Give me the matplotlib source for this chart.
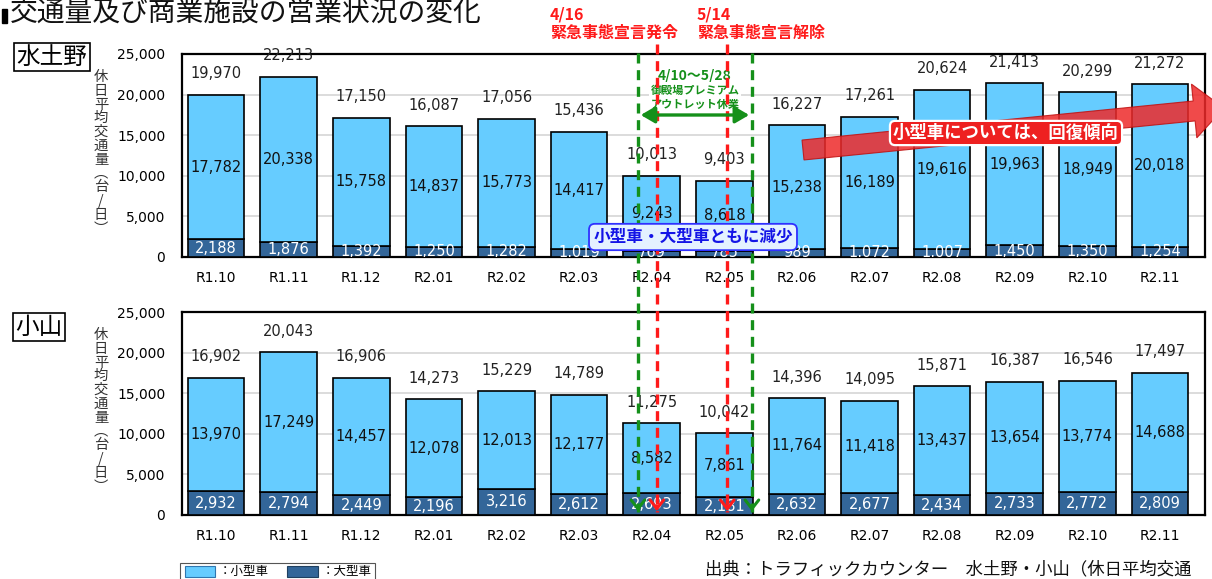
import numpy as np
import matplotlib
matplotlib.use("Agg")
import matplotlib.pyplot as plt
from matplotlib.patches import Rectangle, Polygon, FancyArrowPatch
from matplotlib.lines import Line2D

plt.rcParams['font.family'] = ['DejaVu Sans', 'Noto Sans CJK JP']
JP = ['Noto Sans CJK JP', 'DejaVu Sans']

# ---------------- data ----------------
categories = ["R1.10", "R1.11", "R1.12", "R2.01", "R2.02", "R2.03", "R2.04",
              "R2.05", "R2.06", "R2.07", "R2.08", "R2.09", "R2.10", "R2.11"]

mizudo_total = [19970, 22213, 17150, 16087, 17056, 15436, 10013, 9403,
                16227, 17261, 20624, 21413, 20299, 21272]
mizudo_small = [17782, 20338, 15758, 14837, 15773, 14417, 9243, 8618,
                15238, 16189, 19616, 19963, 18949, 20018]
mizudo_large = [2188, 1876, 1392, 1250, 1282, 1019, 769, 785,
                989, 1072, 1007, 1450, 1350, 1254]

oyama_total = [16902, 20043, 16906, 14273, 15229, 14789, 11275, 10042,
               14396, 14095, 15871, 16387, 16546, 17497]
oyama_small = [13970, 17249, 14457, 12078, 12013, 12177, 8582, 7861,
               11764, 11418, 13437, 13654, 13774, 14688]
oyama_large = [2932, 2794, 2449, 2196, 3216, 2612, 2693, 2181,
               2632, 2677, 2434, 2733, 2772, 2809]

yticks = [0, 5000, 10000, 15000, 20000, 25000]

# ---------------- style ----------------
LIGHT = '#66CCFF'
DARK = '#336699'
W, H = 1212, 579

fig = plt.figure(figsize=(W / 100, H / 100), dpi=100)


def fx(x):
    return x / W


def fy(y):
    return 1 - y / H


def make_axes(top, bottom):
    return fig.add_axes([fx(182), fy(bottom), fx(1205) - fx(182), (bottom - top) / H])


ax1 = make_axes(54, 257)
ax2 = make_axes(312, 515)


def draw(ax, small, large, total):
    x = np.arange(len(categories))
    small = np.array(small)
    large = np.array(large)
    ax.bar(x, large, width=0.78, color=DARK, edgecolor='black', linewidth=1.2, zorder=3)
    ax.bar(x, small, bottom=large, width=0.78, color=LIGHT, edgecolor='black',
           linewidth=1.2, zorder=3)
    ax.set_xlim(-0.47, 13.62)
    ax.set_ylim(0, 25000)
    ax.set_yticks(yticks)
    ax.set_yticklabels([f"{v:,}" for v in yticks])
    ax.set_xticks(x)
    ax.set_xticklabels(categories)
    ax.tick_params(axis='both', length=0, labelsize=10, colors='black')
    ax.tick_params(axis='y', pad=12)
    ax.tick_params(axis='x', pad=10)
    ax.yaxis.grid(True, color='#D9D9D9', linewidth=1.3, zorder=0)
    ax.set_axisbelow(True)
    for s in ax.spines.values():
        s.set_linewidth(1.6)
        s.set_color('black')
    for i in range(len(categories)):
        ax.annotate(f"{total[i]:,}", (i, large[i] + small[i]), xytext=(0, 21),
                    textcoords='offset pixels', ha='center', va='center',
                    fontsize=10.5, color='#222222', zorder=5)
        ax.text(i, large[i] + small[i] / 2, f"{small[i]:,}", ha='center', va='center',
                fontsize=10.5, color='#111111', zorder=5)
        ax.text(i, max(large[i] / 2, 600), f"{large[i]:,}", ha='center', va='center',
                fontsize=10.5, color='white', zorder=5, clip_on=True)


draw(ax1, mizudo_small, mizudo_large, mizudo_total)
draw(ax2, oyama_small, oyama_large, oyama_total)

# ---------------- titles / labels ----------------
fig.add_artist(Rectangle((fx(2), fy(23)), fx(5), 14 / H, transform=fig.transFigure,
                         color='black'))
fig.text(fx(10), fy(14), "交通量及び商業施設の営業状況の変化", family=JP, fontsize=20,
         ha='left', va='center', color='#111111')

fig.text(fx(52), fy(57), "水土野", family=JP, fontsize=17, ha='center', va='center',
         bbox=dict(boxstyle='square,pad=0.12', fc='white', ec='black', lw=1.2))
fig.text(fx(39), fy(327), "小山", family=JP, fontsize=17, ha='center', va='center',
         bbox=dict(boxstyle='square,pad=0.12', fc='white', ec='black', lw=1.2))

ylab = "\n".join(list("休日平均交通量") + ["︵", "台", "/", "日", "︶"])
for ytop in (70, 328):
    fig.text(fx(101), fy(ytop), ylab, family=JP, fontsize=10.3, ha='center', va='top',
             linespacing=0.98, color='#333333')


# ---------------- event lines ----------------
def xpix(xd):
    disp = ax1.transData.transform((xd, 0))
    return fig.transFigure.inverted().transform(disp)[0]


events = [  # (data x, color, top pixel)
    (6.07, '#FF1A1A', 44),
    (7.04, '#FF1A1A', 44),
    (5.81, '#15901A', 53),
    (7.38, '#15901A', 53),
]
for xd, col, top in events:
    xf = xpix(xd)
    fig.add_artist(Line2D([xf, xf], [fy(top), fy(512)], transform=fig.transFigure,
                          color=col, lw=2.4, linestyle=(0, (3.0, 2.0)), zorder=4))
    fig.add_artist(FancyArrowPatch((xf, fy(503)), (xf, fy(514)), transform=fig.transFigure,
                                   arrowstyle='->,head_length=0.45,head_width=0.35',
                                   mutation_scale=14, color=col, lw=2.2, zorder=4))

# green double arrow
fig.add_artist(FancyArrowPatch((xpix(5.81), fy(115)), (xpix(7.38), fy(115)),
                               transform=fig.transFigure,
                               arrowstyle='<|-|>,head_length=0.6,head_width=0.35',
                               mutation_scale=14, color='#15901A', lw=2.4, zorder=4))

fig.text(fx(550), fy(15), "4/16", family=JP, fontsize=11.5, weight='bold',
         color='#FF1A1A', ha='left', va='center')
fig.text(fx(550), fy(33), "緊急事態宣言発令", family=JP, fontsize=11.5, weight='bold',
         color='#FF1A1A', ha='left', va='center')
fig.text(fx(697), fy(15), "5/14", family=JP, fontsize=11.5, weight='bold',
         color='#FF1A1A', ha='left', va='center')
fig.text(fx(697), fy(33), "緊急事態宣言解除", family=JP, fontsize=11.5, weight='bold',
         color='#FF1A1A', ha='left', va='center')

gx = (xpix(5.81) + xpix(7.38)) / 2
fig.text(gx, fy(76), "4/10～5/28", family=JP, fontsize=10, weight='bold',
         color='#15901A', ha='center', va='center',
         bbox=dict(boxstyle='square,pad=0.05', fc='white', ec='none'))
fig.text(gx, fy(90), "御殿場プレミアム", family=JP, fontsize=8, weight='bold',
         color='#15901A', ha='center', va='center',
         bbox=dict(boxstyle='square,pad=0.1', fc='white', ec='none'))
fig.text(gx, fy(104), "アウトレット休業", family=JP, fontsize=8, weight='bold',
         color='#15901A', ha='center', va='center',
         bbox=dict(boxstyle='square,pad=0.1', fc='white', ec='none'))

# blue callout
fig.text(fx(693), fy(237), "小型車・大型車ともに減少", family=JP, fontsize=12, weight='bold',
         color='#1414E6', ha='center', va='center', zorder=6,
         bbox=dict(boxstyle='round,pad=0.25,rounding_size=0.35', fc='#E4F1FF',
                   ec='#3030FF', lw=1.3))

# red recovery arrow
tail = np.array([803.0, 150.0])
tip = np.array([1224.0, 108.0])
d = tip - tail
u = d / np.linalg.norm(d)
n = np.array([-u[1], u[0]])
hb = tip - u * 30
pts = [tail + n * 10, hb + n * 10, hb + n * 27, tip, hb - n * 27, hb - n * 10, tail - n * 10]
pts_f = [(fx(p[0]), fy(p[1])) for p in pts]
fig.add_artist(Polygon(pts_f, closed=True, transform=fig.transFigure, fc='#EE2A2A',
                       ec='#C01010', lw=0.8, alpha=0.85, zorder=5))
fig.text(fx(1006), fy(133), "小型車については、回復傾向", family=JP, fontsize=12.5,
         weight='bold', color='white', ha='center', va='center', zorder=6,
         bbox=dict(boxstyle='round,pad=0.18,rounding_size=0.3', fc='#EE2020',
                   ec='white', lw=1.6))

# ---------------- legend ----------------
fig.add_artist(Rectangle((fx(180), fy(590)), fx(195), 27 / H, transform=fig.transFigure,
                         fc='white', ec='#555555', lw=0.8))
fig.add_artist(Rectangle((fx(185), fy(577)), fx(30), 11 / H, transform=fig.transFigure,
                         fc=LIGHT, ec='#2F77B0', lw=0.8))
fig.text(fx(219), fy(571), "：小型車", family=JP, fontsize=9, ha='left', va='center')
fig.add_artist(Rectangle((fx(287), fy(577)), fx(31), 11 / H, transform=fig.transFigure,
                         fc=DARK, ec='#1F4060', lw=0.8))
fig.text(fx(322), fy(571), "：大型車", family=JP, fontsize=9, ha='left', va='center')

fig.text(fx(705), fy(569), "出典：トラフィックカウンター　水土野・小山（休日平均交通",
         family=JP, fontsize=12.5, ha='left', va='center', color='#111111')

fig.savefig("out.png", dpi=100)
